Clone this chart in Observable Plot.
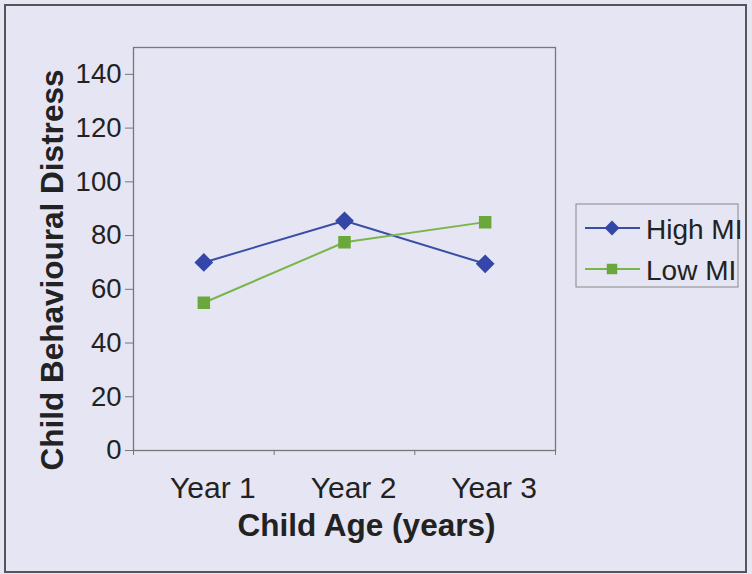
<!DOCTYPE html>
<html>
<head>
<meta charset="utf-8">
<script src="https://cdn.jsdelivr.net/npm/d3@7"></script>
<script src="https://cdn.jsdelivr.net/npm/@observablehq/plot@0.6"></script>
<style>
  html, body { margin: 0; padding: 0; background: #e5e5f4; }
  #wrap { position: relative; width: 752px; height: 574px; overflow: hidden; background: #e5e5f4; font-family: "Liberation Sans", Arial, sans-serif; }
  #border { position: absolute; left: 4px; top: 4px; width: 739px; height: 565px; border: 2px solid #555; pointer-events: none; }
  #legend { position: absolute; left: 0; top: 0; }
</style>
</head>
<body>
<div id="wrap"><div id="border"></div></div>
<script>
const categories = ["Year 1", "Year 2", "Year 3"];
const seriesNames = ["High MI", "Low MI"];
const highMI = [70, 85.5, 69.5];
const lowMI = [55, 77.5, 85];
const yTicks = [0, 20, 40, 60, 80, 100, 120, 140];
const colors = ["#3b4ea6", "#7ab54a"];
const markerColors = ["#3447a8", "#6aa83c"];

const rows = [];
[highMI, lowMI].forEach((vals, s) => vals.forEach((v, i) => rows.push({series: seriesNames[s], x: i + 1, y: v})));
const boundaries = d3.range(categories.length + 1).map(i => i + 0.5);

const plot = Plot.plot({
  width: 752,
  height: 574,
  marginLeft: 133,
  marginRight: 197,
  marginTop: 47,
  marginBottom: 124,
  style: {background: "transparent", fontFamily: "'Liberation Sans', Arial, sans-serif", color: "#222"},
  x: {domain: [0.5, categories.length + 0.5]},
  y: {domain: [0, 150]},
  color: {domain: seriesNames, range: colors},
  marks: [
    Plot.frame({stroke: "#777", strokeWidth: 1.3}),
    Plot.axisY({ticks: yTicks, tickSize: 8, tickPadding: 4, fontSize: 27.5, label: null, stroke: "#777"}),
    Plot.axisX({ticks: boundaries, tickSize: 5, tickFormat: () => "", label: null, stroke: "#777"}),
    Plot.axisX({ticks: d3.range(1, categories.length + 1), tickSize: 0, tickPadding: 26, dx: 9, fontSize: 30, tickFormat: d => categories[d - 1], label: null}),
    Plot.line(rows, {x: "x", y: "y", stroke: "series", strokeWidth: 2}),
    Plot.dot(rows.filter(d => d.series === seriesNames[0]), {x: "x", y: "y", symbol: "diamond2", r: 7.5, fill: markerColors[0], stroke: markerColors[0]}),
    Plot.dot(rows.filter(d => d.series === seriesNames[1]), {x: "x", y: "y", symbol: "square2", r: 7, fill: markerColors[1], stroke: markerColors[1]}),
    Plot.text(["Child Age (years)"], {frameAnchor: "bottom", lineAnchor: "middle", textAnchor: "middle", dx: 22, dy: 75, fontSize: 31.5, fontWeight: "bold", text: d => d, fill: "#222"}),
    Plot.text(["Child Behavioural Distress"], {frameAnchor: "left", textAnchor: "middle", lineAnchor: "middle", dx: -81, dy: 21, rotate: -90, fontSize: 31.5, fontWeight: "bold", text: d => d, fill: "#222"})
  ]
});
document.getElementById("wrap").appendChild(plot);

// legend
const lg = d3.create("svg").attr("id", "legend").attr("width", 743).attr("height", 574);
lg.append("rect").attr("x", 576).attr("y", 204).attr("width", 162).attr("height", 83).attr("fill", "none").attr("stroke", "#888").attr("stroke-width", 1);
seriesNames.forEach((name, i) => {
  const y = 228 + i * 41;
  lg.append("line").attr("x1", 585).attr("x2", 640).attr("y1", y).attr("y2", y).attr("stroke", colors[i]).attr("stroke-width", 2);
  const sym = i === 0 ? d3.symbolDiamond2 : d3.symbolSquare2;
  lg.append("path").attr("d", d3.symbol(sym, 140)()).attr("transform", `translate(612,${y})`).attr("fill", markerColors[i]);
  lg.append("text").attr("x", 646).attr("y", y + 11).attr("font-size", 28).attr("fill", "#222")
    .attr("font-family", "'Liberation Sans', Arial, sans-serif").text(name);
});
document.getElementById("wrap").appendChild(lg.node());
</script>
</body>
</html>
